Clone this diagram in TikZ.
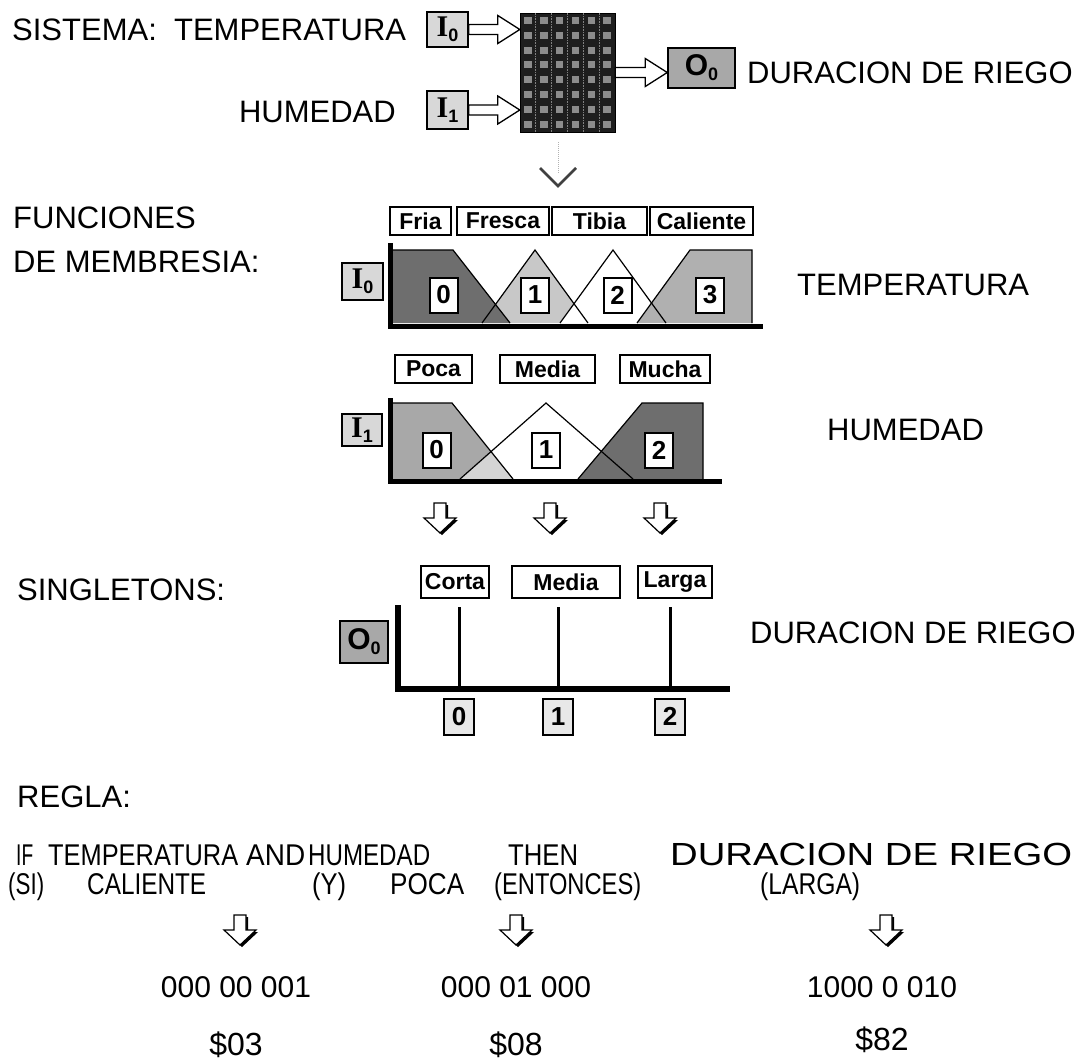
\documentclass[tikz,border=0pt]{standalone}
\usepackage{fontspec}
\usepackage{graphicx}
\setmainfont{Liberation Sans}
\newfontfamily\ioserif{Liberation Serif}
\usetikzlibrary{calc}
\definecolor{iofill}{HTML}{D8D8D8}
\definecolor{ofill}{HTML}{A8A8A8}
\definecolor{darkmf}{HTML}{6E6E6E}
\definecolor{frescaf}{HTML}{C8C8C8}
\definecolor{calf}{HTML}{B0B0B0}
\definecolor{pocaf}{HTML}{A8A8A8}
\definecolor{ovf}{HTML}{D4D4D4}
\definecolor{matf}{HTML}{1E1E1E}
\definecolor{sqf}{HTML}{8C8C8C}
\definecolor{idxf}{HTML}{E8E8E8}
\newcommand{\fitw}[2]{\resizebox{#1pt}{\height}{#2}}
\tikzset{
  txt/.style={font=\fontsize{31}{36}\selectfont, inner sep=0pt, anchor=base west},
  btxt/.style={font=\fontsize{30}{36}\selectfont, inner sep=0pt, anchor=base west},
  lab/.style={draw=black, line width=1.5pt, fill=white, font=\bfseries\fontsize{23}{26}\selectfont, inner sep=0pt, minimum height=28pt},
  idx/.style={draw=black, line width=2pt, fill=white, font=\bfseries\fontsize{26}{28}\selectfont, inner sep=0pt, minimum width=28pt, minimum height=35pt},
  iobox/.style={draw=black, line width=1.5pt, fill=iofill, inner sep=0pt, font=\bfseries\fontsize{30}{30}\selectfont},
  fatarr/.style={draw=black, line width=1.3pt, fill=white},
  mf/.style={draw=black, line width=1.2pt},
  axis/.style={draw=black, line width=5pt},
  spike/.style={draw=black, line width=3pt},
  downarr/.pic={
    \fill[black] (2,2) -- (8,2) -- (8,17) -- (18,17) -- (2,32) -- (-14,17) -- (-4,17) -- (-4,2) -- cycle;
    \draw[black, line width=1.2pt, fill=white] (-6,0) -- (6,0) -- (6,15) -- (16,15) -- (0,30) -- (-16,15) -- (-6,15) -- cycle;
  }
}
\newcommand{\ioI}[1]{{\ioserif\bfseries I}\raisebox{-5pt}{\fontsize{18}{18}\selectfont #1}}
\newcommand{\ioO}[1]{O\raisebox{-5pt}{\fontsize{18}{18}\selectfont #1}}
\begin{document}
\begin{tikzpicture}[x=1pt,y=-1pt]
\useasboundingbox[fill=white] (0,0) rectangle (1076,1063);

% ---------------- SISTEMA ----------------
\node[txt] (sys) at (12,40) {SISTEMA:\ \ TEMPERATURA};
\node[txt, anchor=base east] (hum1) at (396,122) {HUMEDAD};
\node[iobox, minimum width=41pt, minimum height=35pt] (i0) at (447.5,29.5) {\ioI{0}};
\node[iobox, minimum width=41pt, minimum height=38pt] (i1) at (447.5,110) {\ioI{1}};
\node[draw=black, fill=matf, minimum width=95pt, minimum height=119pt, inner sep=0pt] (mat) at (567.5,72.5) {};
\foreach \i in {0,...,5} {
  \foreach \j in {0,...,7} {
    \fill[sqf] ($(mat.north west)+(\i*15.83+4.5,\j*14.875+4)$) rectangle ++(7.5,7);
  }
}
\foreach \i in {1,...,5} {
  \draw[gray, densely dotted, line width=0.6pt] ($(mat.north west)+(\i*15.83,0)$) -- ($(mat.south west)+(\i*15.83,0)$);
}
\node[iobox, fill=ofill, minimum width=67pt, minimum height=40pt] (o0) at (701.5,68) {\ioO{0}};
\node[txt] (dur1) at (747,83) {DURACION DE RIEGO};
\draw[fatarr] let \p1=(i0.east), \p2=(mat.west) in
  (\x1,\y1+5pt) -- (\x2-22pt,\y1+5pt) -- (\x2-22pt,\y1+14pt) -- (\x2,\y1) -- (\x2-22pt,\y1-14pt) -- (\x2-22pt,\y1-5pt) -- (\x1,\y1-5pt) -- cycle;
\draw[fatarr] let \p1=(i1.east), \p2=(mat.west) in
  (\x1,\y1+5pt) -- (\x2-22pt,\y1+5pt) -- (\x2-22pt,\y1+14pt) -- (\x2,\y1) -- (\x2-22pt,\y1-14pt) -- (\x2-22pt,\y1-5pt) -- (\x1,\y1-5pt) -- cycle;
\draw[fatarr] let \p1=(mat.east), \p2=(o0.west) in
  (\x1,\y1+5pt) -- (\x2-22pt,\y1+5pt) -- (\x2-22pt,\y1+14pt) -- (\x2,\y1) -- (\x2-22pt,\y1-14pt) -- (\x2-22pt,\y1-5pt) -- (\x1,\y1-5pt) -- cycle;

% ghost down arrow
\coordinate (gtop) at (558,142);
\coordinate (gtip) at (558,186);
\draw[gray!60, densely dotted, line width=1pt] (gtop) -- ($(gtip)+(0,-12)$);
\draw[black!75, line width=2.5pt] ($(gtip)+(-18,-18)$) -- (gtip) -- ($(gtip)+(18,-18)$);

% ---------------- FUNCIONES DE MEMBRESIA ----------------
\node[txt] (fun1) at (13,228) {FUNCIONES};
\node[txt] (fun2) at (13,272) {DE MEMBRESIA:};

% temperature chart
\node[lab, minimum width=61pt] (fria) at (420.5,221) {Fria};
\node[lab, minimum width=92pt] (fresca) at (503,221) {Fresca};
\node[lab, minimum width=95pt] (tibia) at (599.5,221) {Tibia};
\node[lab, minimum width=103pt] (caliente) at (701.5,221) {Caliente};
\node[iobox, minimum width=41pt, minimum height=37pt] (ti0) at (362.5,281.5) {\ioI{0}};

\fill[frescaf] (482,323) -- (535,250) -- (588,323) -- cycle;
\fill[white] (560,323) -- (613,250) -- (666,323) -- cycle;
\fill[calf] (637,323) -- (690,250) -- (752,250) -- (752,323) -- cycle;
\fill[darkmf] (392,250) -- (453,250) -- (510,323) -- (392,323) -- cycle;
\draw[mf] (482,323) -- (535,250) -- (588,323);
\draw[mf] (560,323) -- (613,250) -- (666,323);
\draw[mf] (637,323) -- (690,250) -- (752,250) -- (752,323);
\draw[mf] (392,250) -- (453,250) -- (510,323);
\draw[axis] (390,243) -- (390,326) -- (763,326);

\node[idx] (t0) at (443.5,295) {0};
\node[idx] (t1) at (535,295) {1};
\node[idx] (t2) at (617.5,295) {2};
\node[idx] (t3) at (710,295) {3};
\node[txt] (temp2) at (797,295) {TEMPERATURA};

% humidity chart
\node[lab, minimum width=77pt] (poca) at (433.5,369) {Poca};
\node[lab, minimum width=95pt] (media) at (547.5,369) {Media};
\node[lab, minimum width=90pt] (mucha) at (665,369) {Mucha};
\node[iobox, minimum width=40pt, minimum height=32pt] (hi1) at (362,430) {\ioI{1}};

\fill[pocaf] (392,403) -- (452,403) -- (513,479) -- (392,479) -- cycle;
\fill[white] (460,479) -- (546,403) -- (633,479) -- cycle;
\fill[ovf] (460,479) -- (491,451.6) -- (513,479) -- cycle;
\fill[darkmf] (578,479) -- (642,403) -- (703,403) -- (703,479) -- cycle;
\draw[mf] (392,403) -- (452,403) -- (513,479);
\draw[mf] (460,479) -- (546,403) -- (633,479);
\draw[mf] (578,479) -- (642,403) -- (703,403) -- (703,479);
\draw[axis] (390,398) -- (390,481) -- (722,481);

\node[idx] (h0) at (436.5,450) {0};
\node[idx] (h1) at (546,450) {1};
\node[idx] (h2) at (659,450) {2};
\node[txt] (hum2) at (827,440) {HUMEDAD};

\pic at (440,503) {downarr};
\pic at (550,503) {downarr};
\pic at (660,503) {downarr};

% ---------------- SINGLETONS ----------------
\node[txt] (sing) at (17,600) {SINGLETONS:};
\node[lab, minimum width=68pt, minimum height=32pt] (corta) at (455,582) {Corta};
\node[lab, minimum width=108pt, minimum height=32pt] (media2) at (566,582) {Media};
\node[lab, minimum width=74pt, minimum height=32pt] (larga) at (675,582) {Larga};
\node[iobox, fill=ofill, minimum width=48pt, minimum height=42pt] (so0) at (364,642) {\ioO{0}};
\draw[axis, line width=6pt] (398,605) -- (398,689) -- (730,689);
\draw[spike] (459,607) -- (459,689);
\draw[spike] (558,607) -- (558,689);
\draw[spike] (670,607) -- (670,689);
\node[idx, fill=idxf, minimum width=30pt, minimum height=36pt] (s0) at (459,716.5) {0};
\node[idx, fill=idxf, minimum width=30pt, minimum height=36pt] (s1) at (558,716.5) {1};
\node[idx, fill=idxf, minimum width=30pt, minimum height=36pt] (s2) at (670,716.5) {2};
\node[txt] (dur2) at (750,643) {DURACION DE RIEGO};

% ---------------- REGLA ----------------
\node[txt] (regla) at (17,807) {REGLA:};
\node[btxt] (w1) at (16,865) {\fitw{17}{IF}};
\node[btxt] (w2) at (48,865) {\fitw{190}{TEMPERATURA}};
\node[btxt] (w3) at (246,865) {\fitw{59}{AND}};
\node[btxt] (w4) at (308,865) {\fitw{122}{HUMEDAD}};
\node[btxt] (w5) at (508,865) {\fitw{70}{THEN}};
\node[btxt, font=\fontsize{32}{36}\selectfont] (w6) at (670,865) {\fitw{402}{DURACION DE RIEGO}};
\node[btxt] (v1) at (8,894) {\fitw{36}{(SI)}};
\node[btxt] (v2) at (87,894) {\fitw{119}{CALIENTE}};
\node[btxt] (v3) at (312,894) {\fitw{34}{(Y)}};
\node[btxt] (v4) at (390,894) {\fitw{74}{POCA}};
\node[btxt] (v5) at (494,894) {\fitw{147}{(ENTONCES)}};
\node[btxt] (v6) at (760,894) {\fitw{100}{(LARGA)}};

\pic at (240,915) {downarr};
\pic at (516,915) {downarr};
\pic at (886,915) {downarr};

\node[btxt, anchor=base] (c1) at (236,997) {000 00 001};
\node[btxt, anchor=base] (c2) at (516,997) {000 01 000};
\node[btxt, anchor=base] (c3) at (882,997) {1000 0 010};
\node[btxt, font=\fontsize{32}{36}\selectfont, anchor=base] (h1x) at (236,1055) {\$03};
\node[btxt, font=\fontsize{32}{36}\selectfont, anchor=base] (h2x) at (516,1055) {\$08};
\node[btxt, font=\fontsize{32}{36}\selectfont, anchor=base] (h3x) at (882,1050) {\$82};
\end{tikzpicture}
\end{document}
